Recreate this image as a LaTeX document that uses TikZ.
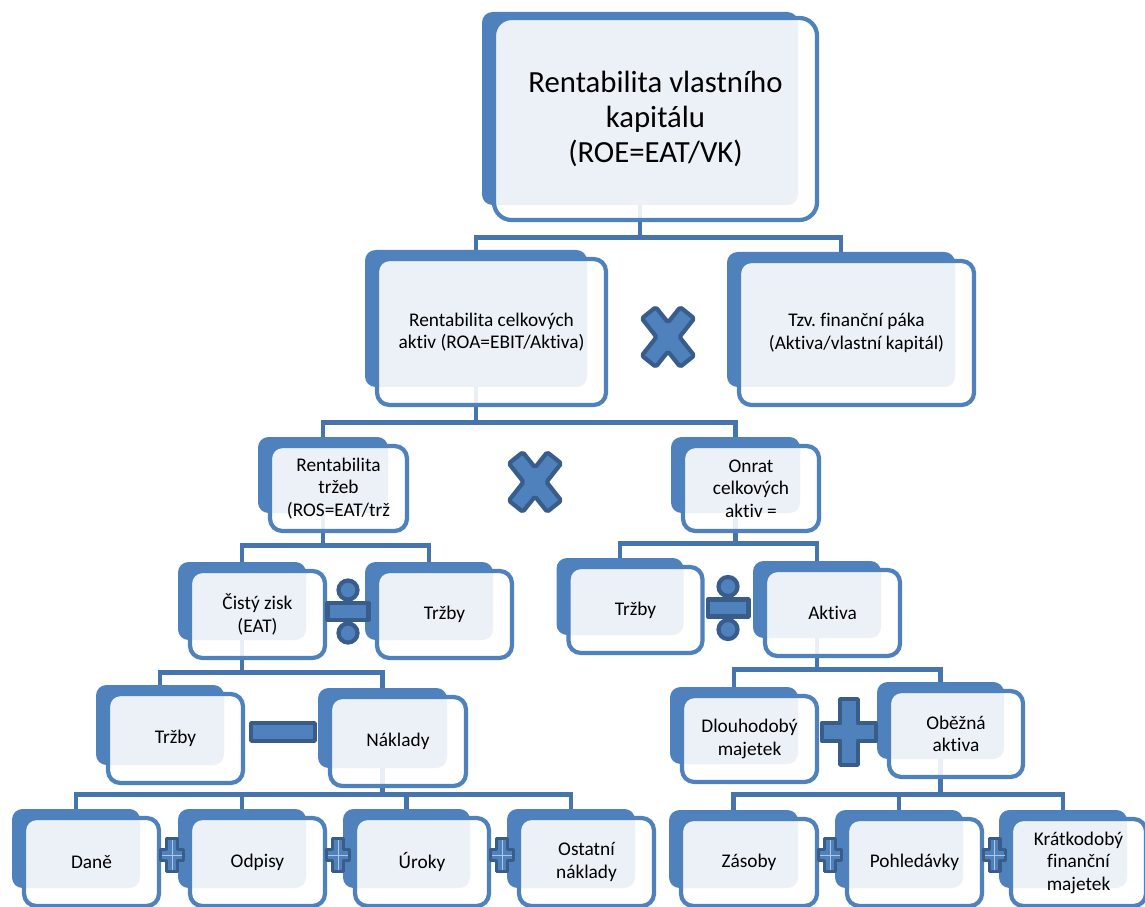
\documentclass[tikz,border=0pt]{standalone}
\usepackage{fontspec}
\setmainfont{Carlito}[Ligatures=NoCommon]
\usepackage{tikz}
\usetikzlibrary{calc, backgrounds}
\definecolor{boxblue}{HTML}{4F81BD}
\definecolor{linkblue}{HTML}{4674AC}
\definecolor{opedge}{HTML}{385D8A}

% blue plate behind, glassy card in front (name, position, plate size, text)
\newcommand{\finbox}[6][]{%
  \node[plate, minimum width=#4cm, minimum height=#5cm] (#2bk) at (#3) {};
  \node[card, minimum width=#4cm+0.14cm, minimum height=#5cm+0.18cm, #1]
    (#2) at ($(#2bk.center)+(0.31,-0.27)$) {#6};
}

\begin{document}
\begin{tikzpicture}[
    plate/.style={fill=boxblue, rounded corners=6pt, inner sep=0pt},
    card/.style={draw=boxblue, line width=2.4pt, fill=white, fill opacity=0.89,
                 text opacity=1, rounded corners=7pt, inner sep=2pt,
                 align=center, font=\fontsize{11}{12.8}\selectfont},
    link/.style={draw=linkblue, line width=2.6pt},
    op/.style={fill=boxblue, draw=opedge, line width=2.4pt, line join=round},
    times/.pic={
      \draw[op, rounded corners=1pt] (0,0.29) -- (0.244,0.596) -- (0.524,0.372)
        -- (0.23,0) -- (0.524,-0.372) -- (0.244,-0.596) -- (0,-0.29)
        -- (-0.244,-0.596) -- (-0.524,-0.372) -- (-0.23,0) -- (-0.524,0.372)
        -- (-0.244,0.596) -- cycle;},
    divide/.pic={
      \draw[op] (-0.408,-0.168) rectangle (0.408,0.168);
      \draw[op] (0,0.43) circle (0.19);
      \draw[op] (0,-0.43) circle (0.19);},
    minus/.pic={
      \draw[op] (-0.636,-0.176) rectangle (0.636,0.176);},
    bigplus/.pic={
      \draw[op] (-0.176,0.656) -- (0.176,0.656) -- (0.176,0.176) -- (0.546,0.176)
        -- (0.546,-0.176) -- (0.176,-0.176) -- (0.176,-0.656) -- (-0.176,-0.656)
        -- (-0.176,-0.176) -- (-0.546,-0.176) -- (-0.546,0.176) -- (-0.176,0.176)
        -- cycle;},
    smallplus/.pic={
      \draw[op, line width=1.8pt] (-0.108,0.328) -- (0.108,0.328) -- (0.108,0.108)
        -- (0.228,0.108) -- (0.228,-0.108) -- (0.108,-0.108) -- (0.108,-0.328)
        -- (-0.108,-0.328) -- (-0.108,-0.108) -- (-0.228,-0.108) -- (-0.228,0.108)
        -- (-0.108,0.108) -- cycle;
      \draw[white!55!boxblue, line width=0.5pt] (0,-0.3) -- (0,0.3) (-0.2,0) -- (0.2,0);}
  ]
  \useasboundingbox (0,0) rectangle (22.9,18.12);
  \clip (0,0) rectangle (22.9,18.12);

  % level 1 and 2
  \finbox[font=\fontsize{17.5}{20}\selectfont, rounded corners=10pt,
          yshift=0.06cm]{roe}{12.80,15.95}{6.32}{3.86}
    {Rentabilita vlastního\\kapitálu\\(ROE=EAT/VK)}
  \finbox{roa}{9.52,11.75}{4.44}{2.74}{Rentabilita celkových\\aktiv (ROA=EBIT/Aktiva)}
  \finbox{fp}{16.82,11.73}{4.56}{2.70}{Tzv.\ finanční páka\\(Aktiva/vlastní kapitál)}

  % level 3
  \finbox{ros}{6.46,8.62}{2.60}{1.52}{Rentabilita\\tržeb\\(ROS=EAT/trž}
  \finbox{ob}{14.71,8.62}{2.58}{1.52}{Onrat\\celkových\\aktiv =}

  % level 4
  \finbox{eat}{4.84,6.10}{2.56}{1.56}{Čistý zisk\\(EAT)}
  \finbox{tr1}{8.58,6.10}{2.56}{1.56}{Tržby}
  \finbox{tr2}{12.40,6.19}{2.54}{1.54}{Tržby}
  \finbox{akt}{16.34,6.13}{2.56}{1.54}{Aktiva}

  % level 5
  \finbox{tr3}{3.20,3.62}{2.56}{1.60}{Tržby}
  \finbox{nak}{7.65,3.56}{2.58}{1.60}{Náklady}
  \finbox{dm}{14.68,3.61}{2.56}{1.54}{Dlouhodobý\\majetek}
  \finbox{oa}{18.81,3.71}{2.54}{1.54}{Oběžná\\aktiva}

  % level 6
  \finbox{dan}{1.52,1.15}{2.56}{1.58}{Daně}
  \finbox{odp}{4.84,1.15}{2.56}{1.58}{Odpisy}
  \finbox{uro}{8.13,1.15}{2.54}{1.58}{Úroky}
  \finbox{ost}{11.42,1.15}{2.56}{1.58}{Ostatní\\náklady}
  \finbox{zas}{14.67,1.14}{2.58}{1.56}{Zásoby}
  \finbox{poh}{17.98,1.14}{2.56}{1.56}{Pohledávky}
  \finbox{kfm}{21.26,1.14}{2.56}{1.56}{Krátkodobý\\finanční\\majetek}

  % tree links, behind the cards
  \begin{scope}[on background layer]
    \draw[link] (roebk.south) -- ++(0,-0.64) coordinate (j1);
    \draw[link] (roabk.north) |- (j1) -| (fpbk.north);
    \draw[link] (roabk.south) -- ++(0,-0.70) coordinate (j2);
    \draw[link] (rosbk.north) |- (j2) -| (obbk.north);
    \draw[link] (rosbk.south) -- ++(0,-0.64) coordinate (j3);
    \draw[link] (eatbk.north) |- (j3) -| (tr1bk.north);
    \draw[link] (obbk.south) -- ++(0,-0.60) coordinate (j4);
    \draw[link] (tr2bk.north) |- (j4) -| (aktbk.north);
    \draw[link] (eatbk.south) -- ++(0,-0.64) coordinate (j5);
    \draw[link] (tr3bk.north) |- (j5) -| (nakbk.north);
    \draw[link] (aktbk.south) -- ++(0,-0.62) coordinate (j6);
    \draw[link] (dmbk.north) |- (j6) -| (oabk.north);
    \draw[link] (nakbk.south) -- ++(0,-0.52) coordinate (j7);
    \draw[link] (danbk.north) |- (j7) -| (ostbk.north);
    \draw[link] (odpbk.north) -- (odpbk.north |- j7);
    \draw[link] (urobk.north) -- (urobk.north |- j7);
    \draw[link] (oabk.south) -- ++(0,-0.70) coordinate (j8);
    \draw[link] (zasbk.north) |- (j8) -| (kfmbk.north);
    \draw[link] (pohbk.north) -- (pohbk.north |- j8);
  \end{scope}

  % operators
  \pic at (13.36,11.38) {times};
  \pic at (10.70,8.48) {times};
  \pic at (6.96,5.89) {divide};
  \pic at (14.56,5.96) {divide};
  \pic at (5.66,3.48) {minus};
  \pic at (16.98,3.48) {bigplus};
  \foreach \x in {3.44, 6.76, 10.04, 16.60, 19.89}
    \pic at (\x,1.02) {smallplus};
\end{tikzpicture}
\end{document}
